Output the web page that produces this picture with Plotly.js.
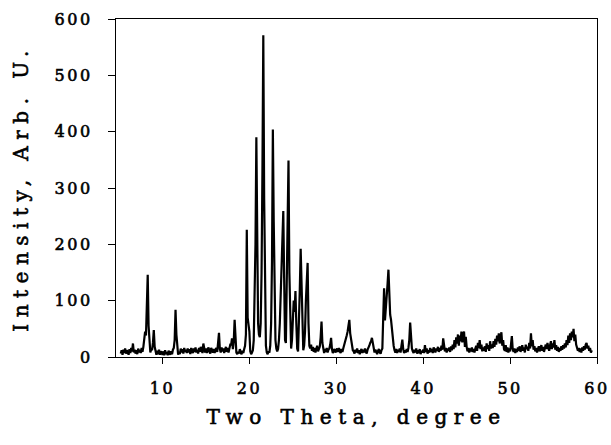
<!DOCTYPE html>
<html>
<head>
<meta charset="utf-8">
<script src="https://cdn.plot.ly/plotly-3.0.1.min.js"></script>
<style>
  html, body { margin: 0; padding: 0; background: #fff; }
  .xtitle, .ytitle { letter-spacing: 6.5px; stroke: #000; stroke-width: 0.6px; }
  .xtick text, .ytick text { letter-spacing: 2.5px; stroke: #000; stroke-width: 0.6px; }
</style>
</head>
<body>
<div id="chart" style="width:611px;height:445px;"></div>
<script>
// XRD scan: 2-theta from scanStart in steps of scanStep (degrees)
const scanStart = 5.2;
const scanStep = 0.1;
// Intensity (arb. units), one row per degree
const intensity = [
  /* 5.2-5.9 */ 6, 12, 4, 13, 7, 15, 6, 12,
  /* 6 */ 9, 4, 14, 7, 16, 10, 24, 8, 13, 6,
  /* 7 */ 12, 5, 15, 8, 13, 7, 16, 9, 18, 30,
  /* 8 */ 45, 38, 100, 146, 55, 18, 8, 14, 12, 25,
  /* 9 */ 48, 18, 8, 4, 11, 5, 13, 4, 10, 6,
  /* 10 */ 4, 10, 3, 12, 5, 9, 3, 11, 6, 4,
  /* 11 */ 10, 5, 13, 16, 30, 84, 40, 12, 4, 9,
  /* 12 */ 5, 15, 8, 14, 6, 16, 9, 13, 7, 15,
  /* 13 */ 8, 14, 5, 16, 10, 7, 15, 9, 17, 8,
  /* 14 */ 13, 6, 16, 9, 18, 14, 7, 24, 13, 8,
  /* 15 */ 15, 7, 13, 17, 9, 6, 16, 10, 8, 14,
  /* 16 */ 7, 13, 16, 9, 24, 43, 14, 8, 17, 10,
  /* 17 */ 15, 7, 13, 18, 9, 16, 8, 14, 22, 22,
  /* 18 */ 33, 14, 28, 66, 24, 8, 5, 9, 6, 14,
  /* 19 */ 8, 5, 11, 7, 14, 20, 40, 226, 70, 60,
  /* 20 */ 45, 10, 5, 8, 12, 30, 95, 200, 390, 140,
  /* 21 */ 60, 40, 35, 60, 150, 330, 571, 280, 90, 20,
  /* 22 */ 8, 5, 10, 8, 20, 60, 170, 404, 240, 90,
  /* 23 */ 30, 15, 10, 14, 30, 60, 110, 150, 200, 259,
  /* 24 */ 140, 30, 25, 110, 230, 349, 150, 40, 15, 30,
  /* 25 */ 80, 100, 80, 117, 60, 15, 10, 50, 120, 192,
  /* 26 */ 110, 40, 12, 20, 45, 100, 140, 167, 60, 20,
  /* 27 */ 15, 22, 11, 18, 9, 16, 8, 14, 20, 10,
  /* 28 */ 13, 18, 35, 63, 25, 12, 7, 14, 9, 16,
  /* 29 */ 8, 13, 15, 22, 34, 14, 7, 12, 14, 8,
  /* 30 */ 13, 15, 9, 16, 10, 7, 14, 9, 15, 20,
  /* 31 */ 24, 30, 38, 45, 55, 66, 42, 28, 18, 12,
  /* 32 */ 10, 6, 13, 8, 15, 7, 12, 5, 11, 14,
  /* 33 */ 7, 13, 8, 15, 9, 6, 13, 16, 20, 25,
  /* 34 */ 28, 34, 22, 14, 8, 13, 7, 5, 11, 14,
  /* 35 */ 8, 6, 12, 15, 70, 122, 65, 95, 120, 130,
  /* 36 */ 155, 90, 75, 66, 45, 30, 20, 12, 8, 14,
  /* 37 */ 7, 13, 9, 15, 8, 20, 31, 14, 7, 12,
  /* 38 */ 8, 14, 9, 16, 30, 61, 28, 15, 10, 7,
  /* 39 */ 13, 8, 15, 6, 12, 7, 14, 5, 11, 8,
  /* 40 */ 13, 7, 21, 9, 15, 6, 12, 8, 16, 9,
  /* 41 */ 14, 7, 17, 10, 8, 15, 11, 18, 9, 16,
  /* 42 */ 11, 20, 13, 33, 16, 10, 16, 8, 15, 11,
  /* 43 */ 17, 9, 19, 12, 22, 14, 30, 17, 35, 24,
  /* 44 */ 40, 20, 38, 28, 45, 26, 42, 45, 18, 36,
  /* 45 */ 18, 10, 16, 8, 15, 10, 17, 9, 14, 8,
  /* 46 */ 15, 20, 11, 25, 16, 30, 14, 22, 10, 17,
  /* 47 */ 11, 19, 9, 24, 14, 21, 11, 28, 15, 22,
  /* 48 */ 16, 28, 18, 32, 22, 38, 28, 42, 24, 35,
  /* 49 */ 44, 20, 30, 14, 11, 21, 9, 17, 8, 15,
  /* 50 */ 10, 22, 37, 14, 9, 15, 7, 14, 9, 17,
  /* 51 */ 11, 19, 9, 15, 21, 11, 17, 8, 22, 14,
  /* 52 */ 18, 11, 25, 15, 42, 19, 30, 13, 19, 10,
  /* 53 */ 16, 8, 14, 19, 10, 17, 21, 11, 18, 9,
  /* 54 */ 15, 22, 14, 25, 17, 11, 21, 28, 14, 24,
  /* 55 */ 17, 30, 13, 21, 11, 18, 9, 16, 11, 19,
  /* 56 */ 13, 21, 15, 24, 17, 30, 21, 38, 25, 42,
  /* 57 */ 30, 45, 35, 50, 28, 40, 22, 17, 11, 16,
  /* 58 */ 9, 15, 8, 17, 11, 19, 13, 22, 25, 15,
  /* 59 */ 20, 11, 16, 8, 12
];
const twoTheta = intensity.map((_, i) => +(scanStart + i * scanStep).toFixed(2));

const xTickVals = [10, 20, 30, 40, 50, 60];
const yTickVals = [0, 100, 200, 300, 400, 500, 600];
const xTitle = 'Two Theta, degree';
const yTitle = 'Intensity, Arb. U.';

const font = 'DejaVu Serif, serif';

Plotly.newPlot('chart', [{
  x: twoTheta,
  y: intensity,
  type: 'scatter',
  mode: 'lines',
  line: { color: '#000', width: 2.2 },
  hoverinfo: 'skip'
}], {
  width: 611, height: 445,
  margin: { l: 116, r: 14, t: 19, b: 88 },
  paper_bgcolor: '#fff', plot_bgcolor: '#fff',
  showlegend: false,
  font: { family: font, color: '#000' },
  xaxis: {
    range: [4.65, 60],
    tickvals: xTickVals,
    ticktext: xTickVals.map(String),
    ticks: 'outside', ticklen: 6, tickwidth: 1, tickcolor: '#000',
    showline: true, linecolor: '#000', linewidth: 1.2, mirror: true,
    showgrid: false, zeroline: false,
    tickfont: { family: font, size: 16, color: '#000' },
    ticklabelstandoff: 11,
    title: { text: xTitle, font: { family: font, size: 20, color: '#000' }, standoff: 12 }
  },
  yaxis: {
    range: [0, 600],
    tickvals: yTickVals,
    ticktext: yTickVals.map(String),
    ticks: 'outside', ticklen: 7, tickwidth: 1, tickcolor: '#000',
    showline: true, linecolor: '#000', linewidth: 1.2, mirror: true,
    showgrid: false, zeroline: false,
    tickfont: { family: font, size: 16, color: '#000' },
    ticklabelstandoff: 12,
    title: { text: yTitle, font: { family: font, size: 20, color: '#000' }, standoff: 20 }
  }
}, { displayModeBar: false, staticPlot: true });
</script>
</body>
</html>
